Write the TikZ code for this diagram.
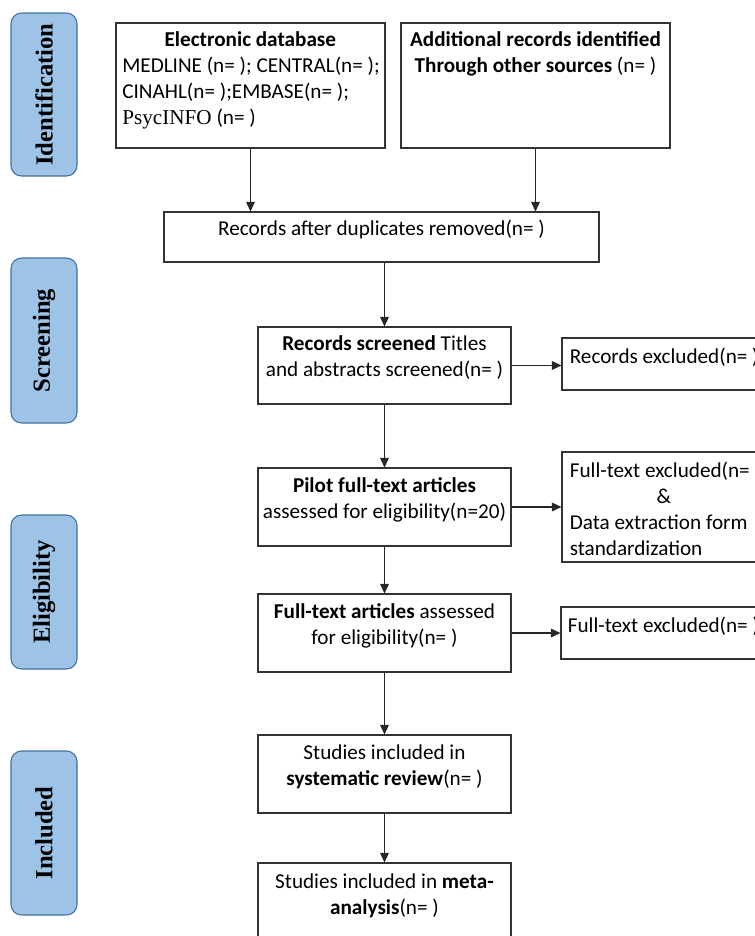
\documentclass[tikz,border=0pt]{standalone}
\usepackage{fontspec}
\setmainfont{Carlito}
\newfontfamily\stagefont{Liberation Serif}
\usetikzlibrary{arrows.meta}
\usetikzlibrary{positioning}

\definecolor{stagefill}{HTML}{9DC3E6}
\definecolor{stageline}{HTML}{41719C}

\tikzset{
    box/.style={draw=black!80, line width=0.6pt, rectangle, inner sep=0pt},
    stage/.style={draw=stageline, fill=stagefill, line width=0.6pt, rounded corners=6pt,
        minimum width=1.32cm, inner sep=0pt},
    stagetext/.style={rotate=90, inner sep=0pt, font=\stagefont\bfseries\fontsize{14}{16}\selectfont},
    txt/.style={inner sep=0pt, align=center, font=\fontsize{12.05}{14.8}\selectfont},
    flow/.style={draw=black!85, line width=0.6pt, -{Triangle[length=5.5pt,width=5pt]}},
}

\begin{document}
\begin{tikzpicture}
    \useasboundingbox (0,0) rectangle (15.1,-18.72);
    \clip (0,0) rectangle (15.1,-18.72);

    % Stage bars
    \node[stage, minimum height=3.26cm] (ident) at (0.88,-1.89) {};
    \node[stagetext] (identlbl) at (ident) {Identification};
    \node[stage, minimum height=3.3cm] (screen) at (0.88,-6.81) {};
    \node[stagetext] (screenlbl) at (screen) {Screening};
    \node[stage, minimum height=3.08cm] (elig) at (0.88,-11.84) {};
    \node[stagetext] (eliglbl) at (elig) {Eligibility};
    \node[stage, minimum height=3.28cm] (incl) at (0.88,-16.66) {};
    \node[stagetext] (incllbl) at (incl) {Included};

    % Identification
    \node[box, minimum width=5.38cm, minimum height=2.5cm] (db) at (5.01,-1.71) {};
    \node[txt, align=left, below right=0.18cm and 0.13cm of db.north west] (dbtxt) {%
        \makebox[5.12cm]{\textbf{Electronic database}}\\
        MEDLINE (n= ); CENTRAL(n= );\\
        CINAHL(n= );EMBASE(n= );\\
        {\stagefont PsycINFO} (n= )};
    \node[box, minimum width=5.38cm, minimum height=2.5cm] (oth) at (10.71,-1.71) {};
    \node[txt, below=0.18cm of oth.north] (othtxt) {\textbf{Additional records identified}\\
        \textbf{Through other sources} (n= )};
    \node[box, minimum width=8.7cm, minimum height=1cm] (dup) at (7.63,-4.74) {};
    \node[txt, below=0.17cm of dup.north] (duptxt) {Records after duplicates removed(n= )};

    % Screening
    \node[box, minimum width=5.06cm, minimum height=1.54cm] (scr) at (7.69,-7.31) {};
    \node[txt, below=0.17cm of scr.north] (scrtxt) {\textbf{Records screened} Titles\\
        and abstracts screened(n= )};
    \node[box, minimum width=4.2cm, minimum height=1.04cm] (exca) at (13.34,-7.28) {};
    \node[txt, align=left, below right=0.2cm and 0.16cm of exca.north west] (excatxt) {Records excluded(n= )};

    % Eligibility
    \node[box, minimum width=5.06cm, minimum height=1.56cm] (pil) at (7.69,-10.14) {};
    \node[txt, below=0.2cm of pil.north] (piltxt) {\textbf{Pilot full-text articles}\\
        assessed for eligibility(n=20)};
    \node[box, minimum width=4.2cm, minimum height=2.2cm] (excb) at (13.34,-10.14) {};
    \node[txt, align=left, below right=0.2cm and 0.16cm of excb.north west] (excbtxt) {%
        Full-text excluded(n= )\\
        \makebox[3.76cm]{\&}\\
        Data extraction form\\
        standardization};
    \node[box, minimum width=5.06cm, minimum height=1.56cm] (ft) at (7.69,-12.66) {};
    \node[txt, below=0.2cm of ft.north] (fttxt) {\textbf{Full-text articles} assessed\\
        for eligibility(n= )};
    \node[box, minimum width=4.2cm, minimum height=1.04cm] (excc) at (13.32,-12.66) {};
    \node[txt, align=left, below right=0.2cm and 0.14cm of excc.north west] (excctxt) {Full-text excluded(n= )};

    % Included
    \node[box, minimum width=5.06cm, minimum height=1.56cm] (sr) at (7.69,-15.48) {};
    \node[txt, below=0.2cm of sr.north] (srtxt) {Studies included in\\
        \textbf{systematic review}(n= )};
    \node[box, minimum width=5.06cm, minimum height=1.56cm] (ma) at (7.69,-18.04) {};
    \node[txt, below=0.22cm of ma.north] (matxt) {Studies included in \textbf{meta-}\\
        \textbf{analysis}(n= )};

    % Arrows
    \draw[flow] (db.south) -- (db.south |- dup.north);
    \draw[flow] (oth.south) -- (oth.south |- dup.north);
    \draw[flow] (scr.north |- dup.south) -- (scr.north);
    \draw[flow] (scr.east) -- (scr.east -| exca.west);
    \draw[flow] (scr.south) -- (pil.north);
    \draw[flow] (pil.east) -- (pil.east -| excb.west);
    \draw[flow] (pil.south) -- (ft.north);
    \draw[flow] (ft.east) -- (ft.east -| excc.west);
    \draw[flow] (ft.south) -- (sr.north);
    \draw[flow] (sr.south) -- (ma.north);
\end{tikzpicture}
\end{document}
